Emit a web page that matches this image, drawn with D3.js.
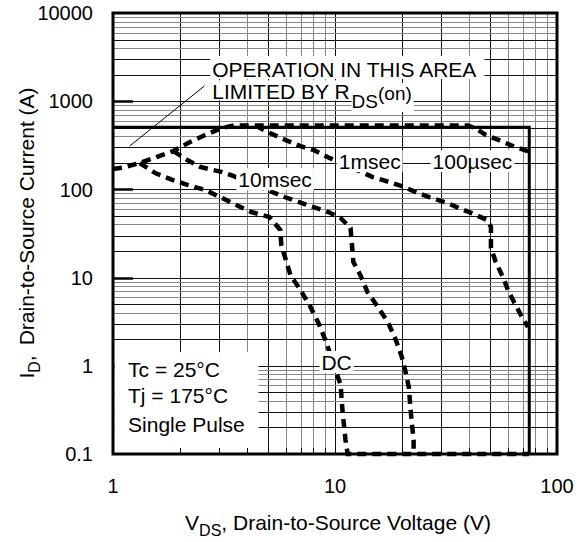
<!DOCTYPE html>
<html>
<head>
<meta charset="utf-8">
<script src="https://cdn.jsdelivr.net/npm/d3@7"></script>
<style>
  body { margin: 0; background: #fff; }
  svg { display: block; }
  text { font-family: "Liberation Sans", Arial, Helvetica, sans-serif; fill: #000; }
</style>
</head>
<body>
<svg id="chart" width="584" height="542"></svg>
<script>
// ************************** DATA **************************//

var xTicks = [1, 10, 100];
var yTicks = [0.1, 1, 10, 100, 1000, 10000];
var xTickLabels = ["1", "10", "100"];
var yTickLabels = ["0.1", "1", "10", "100", "1000", "10000"];

var currentLimit = 505;   // A, package limit line
var voltageLimit = 75;    // V, BVdss line

// [V, A]
var curve100us = [[1, 170], [1.1, 176], [1.32, 199], [1.87, 272], [2.18, 336], [2.6, 414],
  [3.1, 497], [3.5, 530], [39.7, 530], [42.5, 498], [47.8, 414], [55.9, 354], [63.3, 310],
  [71, 280], [74.7, 268]];

var curve1ms = [[4.4, 525], [4.96, 448], [5.98, 363], [6.98, 310], [8.0, 280], [9.25, 233],
  [14.8, 138], [17.6, 121], [20.6, 106], [23.6, 91], [28.1, 77.8], [32.2, 70], [36.9, 60],
  [42.2, 52.6], [48.3, 45], [50.4, 37.5], [50.4, 21.7], [53, 15], [57, 10.2], [60.1, 7.23],
  [64, 5.28], [68.8, 3.76], [74, 2.75]];

var curve10ms = [[1.87, 272], [2.16, 215], [2.47, 180], [3.1, 157], [3.48, 142], [5.92, 82],
  [6.84, 72], [8.0, 63], [9.34, 55.4], [10.6, 47.4], [11.75, 36.5], [12.1, 15], [13, 10.7],
  [14, 6.87], [15.6, 4.64], [17.3, 3.14], [18.8, 1.96], [20, 1.26], [20.8, 0.851],
  [21.5, 0.575], [21.9, 0.315], [22.6, 0.144], [22.6, 0.1]];

var curveDC = [[1.32, 199], [1.55, 153], [1.85, 128], [2.18, 112], [2.6, 98.5], [3.1, 80],
  [3.59, 66.5], [4.2, 55.4], [5.06, 48.7], [5.67, 34.7], [5.73, 23.4], [6.3, 10.7],
  [6.98, 7.23], [7.67, 4.89], [8.42, 3.06], [9.06, 1.96], [10.6, 0.606], [10.8, 0.315],
  [11.15, 0.144], [11.4, 0.1], [74.7, 0.1]];

// label text and anchor (V, A) of its baseline start
var curveLabels = [
  { text: "10msec", v: 3.67, i: 106 },
  { text: "1msec", v: 10.4, i: 170 },
  { text: "100µsec", v: 27.5, i: 170 },
  { text: "DC", v: 8.69, i: 0.895 }
];
var conditions = ["Tc = 25°C", "Tj = 175°C", "Single Pulse"];
var conditionRows = [0.746, 0.379, 0.177];

// ************************** SCALES **************************//

var svg = d3.select("#chart");
var margin = { left: 113, top: 13, right: 27, bottom: 88 };
var width = 584, height = 542;

var x = d3.scaleLog().domain([1, 100]).range([margin.left, width - margin.right]);
var y = d3.scaleLog().domain([0.1, 10000]).range([height - margin.bottom, margin.top]);

var crisp = v => Math.round(v) + 0.5;
var mantissa = v => Math.round(v / Math.pow(10, Math.floor(Math.log10(v) + 1e-9)));
var isDark = v => [1, 2, 3, 5].includes(mantissa(v));

// ************************** GRID **************************//

var grid = svg.append("g");

grid.selectAll(".vx")
  .data(x.ticks())
  .join("line")
  .attr("x1", d => crisp(x(d))).attr("x2", d => crisp(x(d)))
  .attr("y1", y(0.1)).attr("y2", y(10000))
  .attr("stroke", d => isDark(d) ? "#111" : "#888")
  .attr("stroke-width", 1);

grid.selectAll(".hy")
  .data(y.ticks())
  .join("line")
  .attr("y1", d => crisp(y(d))).attr("y2", d => crisp(y(d)))
  .attr("x1", x(1)).attr("x2", x(100))
  .attr("stroke", d => isDark(d) ? "#111" : "#888")
  .attr("stroke-width", 1);

// major ticks on the left
grid.selectAll(".maj")
  .data(yTicks.slice(1, -1))
  .join("line")
  .attr("x1", x(1)).attr("x2", x(1) + 20)
  .attr("y1", d => crisp(y(d))).attr("y2", d => crisp(y(d)))
  .attr("stroke", "#000")
  .attr("stroke-width", 2.5);

// ************************** LIMITS AND CURVES **************************//

svg.append("path")
  .attr("d", `M${x(1)},${y(currentLimit)}H${x(voltageLimit)}V${y(0.1)}`)
  .attr("fill", "none")
  .attr("stroke", "#000")
  .attr("stroke-width", 3);

var line = d3.line().x(d => x(d[0])).y(d => y(d[1]));

svg.selectAll(".curve")
  .data([curve100us, curve1ms, curve10ms, curveDC])
  .join("path")
  .attr("d", line)
  .attr("fill", "none")
  .attr("stroke", "#000")
  .attr("stroke-width", 4.5)
  .attr("stroke-dasharray", "9,6");

// leader line
svg.append("line")
  .attr("x1", x(1.19)).attr("y1", y(311))
  .attr("x2", x(2.58)).attr("y2", y(1486))
  .attr("stroke", "#000")
  .attr("stroke-width", 1);

// ************************** LABELS **************************//

function boxed(g, txt, px, py, size, pad) {
  var t = g.append("text")
    .attr("x", px).attr("y", py)
    .attr("font-size", size)
    .text(txt);
  var b = t.node().getBBox();
  g.insert("rect", () => t.node())
    .attr("x", b.x - pad[0]).attr("y", b.y - pad[1])
    .attr("width", b.width + pad[0] + pad[2]).attr("height", b.height + pad[1] + pad[3])
    .attr("fill", "#fff");
  return t;
}

var lab = svg.append("g");

curveLabels.forEach(d => boxed(lab, d.text, x(d.v), y(d.i), 21, [2, 0, 2, -1]));

// OPERATION IN THIS AREA / LIMITED BY RDS(on)
var l1 = boxed(lab, "OPERATION IN THIS AREA", x(2.8), y(1880), 21, [2, 2, 8, -2]);
var l2y = y(1050);
var l2 = lab.append("text").attr("x", x(2.8)).attr("y", l2y).attr("font-size", 21).text("LIMITED BY R");
var b2 = l2.node().getBBox();
lab.insert("rect", () => l2.node())
  .attr("x", b2.x - 2).attr("y", b2.y)
  .attr("width", b2.width + 2).attr("height", l2y + 1 - b2.y)
  .attr("fill", "#fff");
var rEnd = x(2.8) + l2.node().getComputedTextLength();
var ds = lab.append("text").attr("x", rEnd + 2).attr("y", l2y + 8.5).attr("font-size", 19).text("DS");
var on = lab.append("text")
  .attr("x", rEnd + 2 + ds.node().getComputedTextLength())
  .attr("y", l2y + 0.5).attr("font-size", 19).text("(on)");
var bd = ds.node().getBBox(), bo = on.node().getBBox();
lab.insert("rect", () => ds.node())
  .attr("x", bd.x).attr("y", bo.y)
  .attr("width", bo.x + bo.width + 2 - bd.x).attr("height", bd.y + bd.height - bo.y)
  .attr("fill", "#fff");

// conditions box
lab.append("rect")
  .attr("x", x(1) + 1.5).attr("y", y(1.43))
  .attr("width", x(4.52) - x(1) - 1.5).attr("height", y(0.1) - y(1.43) - 1.5)
  .attr("fill", "#fff");
lab.selectAll(".cond")
  .data(conditions)
  .join("text")
  .attr("x", x(1.169))
  .attr("y", (d, i) => y(conditionRows[i]))
  .attr("font-size", 21)
  .text(d => d);

// minor ticks along the bottom (visible inside the white box)
svg.selectAll(".mint")
  .data(x.ticks())
  .join("line")
  .attr("x1", d => crisp(x(d))).attr("x2", d => crisp(x(d)))
  .attr("y1", y(0.1)).attr("y2", y(0.1) - 6)
  .attr("stroke", "#000");

// frame
svg.append("rect")
  .attr("x", x(1)).attr("y", y(10000))
  .attr("width", x(100) - x(1)).attr("height", y(0.1) - y(10000))
  .attr("fill", "none")
  .attr("stroke", "#000")
  .attr("stroke-width", 3);

// ************************** AXES TEXT **************************//

svg.selectAll(".ylab")
  .data(yTicks)
  .join("text")
  .attr("x", x(1) - 20)
  .attr("y", d => y(d))
  .attr("dy", "0.36em")
  .attr("text-anchor", "end")
  .attr("font-size", 20)
  .text((d, i) => yTickLabels[i]);

svg.selectAll(".xlab")
  .data(xTicks)
  .join("text")
  .attr("x", d => x(d))
  .attr("y", y(0.1) + 39)
  .attr("text-anchor", "middle")
  .attr("font-size", 20)
  .text((d, i) => xTickLabels[i]);

var xt = svg.append("text")
  .attr("x", 338).attr("y", 530)
  .attr("text-anchor", "middle")
  .attr("font-size", 21);
xt.append("tspan").text("V");
xt.append("tspan").attr("font-size", 16).attr("dy", 6).text("DS");
xt.append("tspan").attr("dy", -6).text(", Drain-to-Source Voltage (V)");

var yt = svg.append("text")
  .attr("transform", "translate(34,233) rotate(-90)")
  .attr("text-anchor", "middle")
  .attr("font-size", 21);
yt.append("tspan").text("I");
yt.append("tspan").attr("font-size", 16).attr("dy", 6).text("D");
yt.append("tspan").attr("dy", -6).text(",");
yt.append("tspan").attr("dx", 10).text("Drain-to-Source Current (A)");
</script>
</body>
</html>
